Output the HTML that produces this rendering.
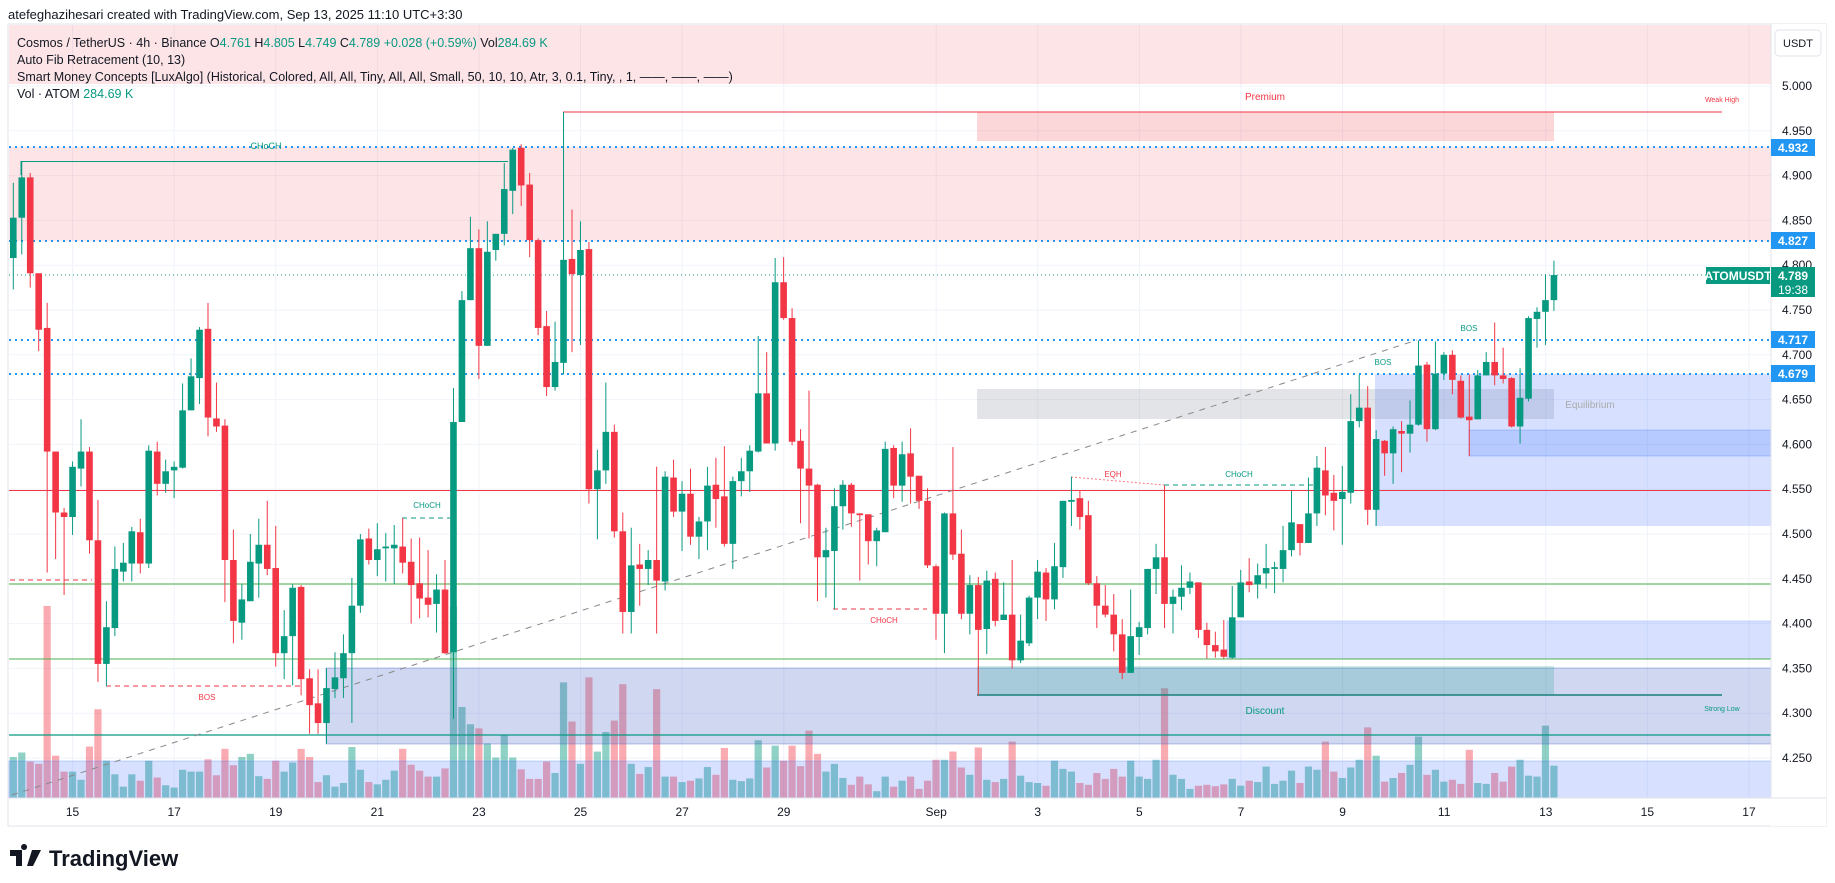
<!DOCTYPE html>
<html><head><meta charset="utf-8"><style>
html,body{margin:0;padding:0;background:#fff;}
svg{display:block;font-family:"Liberation Sans",sans-serif;}
</style></head><body>
<svg id="chart" width="1835" height="883" viewBox="0 0 1835 883" xmlns="http://www.w3.org/2000/svg">
<text x="8" y="19" font-size="13" fill="#131722">atefeghazihesari created with TradingView.com, Sep 13, 2025 11:10 UTC+3:30</text>
<rect x="8" y="24" width="1818" height="802" fill="#fff" stroke="#e0e3eb"/>
<g id="grid"></g>
<g id="vol"></g>
<g id="zones">
<rect x="9" y="25" width="1762" height="59" fill="rgba(242,54,69,0.13)"/>
<rect x="9" y="147" width="1762" height="94" fill="rgba(242,54,69,0.13)"/>
<rect x="977" y="112" width="577" height="29" fill="rgba(242,54,69,0.2)"/>
<rect x="977" y="389" width="577" height="30" fill="rgba(150,155,165,0.27)"/>
<rect x="1375" y="374" width="396" height="152" fill="rgba(41,98,255,0.19)"/>
<rect x="1469" y="430" width="302" height="26" fill="rgba(41,98,255,0.18)" stroke="rgba(41,98,255,0.25)"/>
<rect x="1227" y="621" width="544" height="38" fill="rgba(41,98,255,0.19)" stroke="rgba(41,98,255,0.2)"/>
<rect x="326" y="668" width="1445" height="76" fill="rgba(63,94,200,0.25)" stroke="rgba(63,94,200,0.35)"/>
<rect x="977" y="666" width="577" height="29" fill="rgba(8,153,129,0.2)"/>
<rect x="9" y="761" width="1762" height="37" fill="rgba(41,98,255,0.19)" stroke="rgba(41,98,255,0.25)"/>
</g>
<g id="lines">
<line x1="9" x2="1771" y1="147" y2="147" stroke="#2196f3" stroke-width="2" stroke-dasharray="2 4"/>
<line x1="9" x2="1771" y1="241" y2="241" stroke="#2196f3" stroke-width="2" stroke-dasharray="2 4"/>
<line x1="9" x2="1771" y1="340" y2="340" stroke="#2196f3" stroke-width="2" stroke-dasharray="2 4"/>
<line x1="9" x2="1771" y1="374" y2="374" stroke="#2196f3" stroke-width="2" stroke-dasharray="2 4"/>
<line x1="9" x2="1771" y1="275" y2="275" stroke="#089981" stroke-width="1" stroke-dasharray="1 3"/>
<line x1="9" x2="1771" y1="490.5" y2="490.5" stroke="#f23645" stroke-width="1"/>
<line x1="9" x2="1771" y1="584" y2="584" stroke="#81c784" stroke-width="1.5"/>
<line x1="9" x2="1771" y1="659" y2="659" stroke="#4caf50" stroke-width="1"/>
<line x1="9" x2="1771" y1="735" y2="735" stroke="#089981" stroke-width="1.2"/>
<line x1="12" y1="795" x2="1417" y2="340" stroke="#888" stroke-width="1" stroke-dasharray="6 6"/>
<polyline points="21,175 21,161.5 508,161.5" fill="none" stroke="#089981" stroke-width="1"/>
<line x1="563" y1="112" x2="1722" y2="112" stroke="#f23645" stroke-width="1"/>
<line x1="977" y1="695" x2="1722" y2="695" stroke="#1a7f7a" stroke-width="1.5"/>
<line x1="106" y1="686" x2="300" y2="686" stroke="#f23645" stroke-dasharray="5 4"/>
<line x1="10" y1="580" x2="92" y2="580" stroke="#f23645" stroke-dasharray="5 4"/>
<line x1="402" y1="518" x2="450" y2="518" stroke="#089981" stroke-dasharray="5 4"/>
<line x1="833" y1="609" x2="927" y2="609" stroke="#f23645" stroke-dasharray="5 4"/>
<line x1="1071" y1="477" x2="1164" y2="485" stroke="#f77c80" stroke-dasharray="2 2"/>
<line x1="1164" y1="485" x2="1313" y2="485" stroke="#089981" stroke-dasharray="5 4"/>
</g>
<g id="candles"></g>
<g font-size="8">
<text x="266" y="149" fill="#089981" font-size="9" text-anchor="middle">CHoCH</text>
<text x="207" y="700" fill="#f23645" text-anchor="middle">BOS</text>
<text x="427" y="508" fill="#089981" text-anchor="middle">CHoCH</text>
<text x="884" y="623" fill="#f23645" text-anchor="middle">CHoCH</text>
<text x="1113" y="477" fill="#f23645" text-anchor="middle">EQH</text>
<text x="1239" y="477" fill="#089981" text-anchor="middle">CHoCH</text>
<text x="1383" y="365" fill="#089981" text-anchor="middle">BOS</text>
<text x="1469" y="331" fill="#089981" text-anchor="middle">BOS</text>
<text x="1265" y="100" fill="#f23645" font-size="10" text-anchor="middle">Premium</text>
<text x="1722" y="102" fill="#f23645" font-size="7" text-anchor="middle">Weak High</text>
<text x="1590" y="408" fill="#aaa" font-size="10" text-anchor="middle">Equilibrium</text>
<text x="1265" y="714" fill="#089981" font-size="10" text-anchor="middle">Discount</text>
<text x="1722" y="711" fill="#089981" font-size="7" text-anchor="middle">Strong Low</text>
</g>
<g font-size="12.5" fill="#131722">
<text x="17" y="47">Cosmos / TetherUS · 4h · Binance  O<tspan fill="#089981">4.761</tspan>  H<tspan fill="#089981">4.805</tspan>  L<tspan fill="#089981">4.749</tspan>  C<tspan fill="#089981">4.789</tspan>  <tspan fill="#089981">+0.028 (+0.59%)</tspan>  Vol<tspan fill="#089981">284.69 K</tspan></text>
<text x="17" y="64">Auto Fib Retracement (10, 13)</text>
<text x="17" y="81">Smart Money Concepts [LuxAlgo] (Historical, Colored, All, All, Tiny, All, All, Small, 50, 10, 10, Atr, 3, 0.1, Tiny, , 1, ——, ——, ——)</text>
<text x="17" y="98">Vol · ATOM  <tspan fill="#089981">284.69 K</tspan></text>
</g>
<rect x="1771" y="24" width="55" height="802" fill="#fff"/>
<line x1="1771" y1="24" x2="1771" y2="798" stroke="#e0e3eb"/>
<line x1="8" y1="798" x2="1826" y2="798" stroke="#e0e3eb"/>
<g id="axes" font-size="12" fill="#131722"></g>
<rect x="1775" y="30" width="46" height="26" rx="4" fill="#fff" stroke="#e0e3eb"/>
<text x="1798" y="47" font-size="11" fill="#131722" text-anchor="middle">USDT</text>
<g font-size="12" font-weight="bold" fill="#fff" text-anchor="middle">
<rect x="1771" y="139" width="44" height="17" fill="#2196f3"/><text x="1793" y="152">4.932</text>
<rect x="1771" y="232" width="44" height="17" fill="#2196f3"/><text x="1793" y="245">4.827</text>
<rect x="1771" y="331" width="44" height="17" fill="#2196f3"/><text x="1793" y="344">4.717</text>
<rect x="1771" y="365" width="44" height="17" fill="#2196f3"/><text x="1793" y="378">4.679</text>
<rect x="1706" y="267" width="64" height="17" fill="#089981"/><text x="1738" y="280">ATOMUSDT</text>
<rect x="1771" y="267" width="44" height="30" fill="#089981"/><text x="1793" y="280">4.789</text><text x="1793" y="294" font-weight="normal">19:38</text>
</g>
<g>
<path d="M10 850 h12 v16 h-6 v-10 h-6z M24 850 a3 3 0 1 1 0.1 0z M32 850 h9 l-8 16 h-6z" fill="#131722"/>
<text x="49" y="866" font-size="22" font-weight="bold" fill="#131722">TradingView</text>
</g>
</svg>
<script>
const O=[4.808,4.853,4.898,4.791,4.730,4.592,4.524,4.519,4.573,4.592,4.493,4.355,4.395,4.458,4.467,4.502,4.467,4.592,4.556,4.571,4.574,4.638,4.674,4.729,4.629,4.621,4.471,4.401,4.425,4.467,4.488,4.462,4.367,4.386,4.441,4.339,4.311,4.289,4.327,4.339,4.367,4.420,4.495,4.471,4.484,4.484,4.486,4.469,4.445,4.429,4.422,4.438,4.368,4.625,4.761,4.819,4.710,4.817,4.835,4.883,4.931,4.890,4.828,4.732,4.664,4.691,4.807,4.789,4.818,4.550,4.571,4.614,4.503,4.413,4.466,4.461,4.471,4.447,4.563,4.525,4.545,4.497,4.514,4.555,4.542,4.489,4.559,4.570,4.592,4.657,4.601,4.781,4.741,4.604,4.573,4.555,4.474,4.481,4.531,4.555,4.523,4.522,4.492,4.502,4.596,4.554,4.590,4.565,4.537,4.464,4.411,4.523,4.478,4.411,4.443,4.394,4.450,4.404,4.410,4.359,4.378,4.429,4.457,4.427,4.463,4.536,4.540,4.521,4.445,4.420,4.410,4.388,4.345,4.385,4.395,4.461,4.474,4.422,4.430,4.440,4.446,4.393,4.376,4.371,4.362,4.407,4.447,4.444,4.456,4.461,4.461,4.482,4.511,4.490,4.523,4.571,4.546,4.539,4.546,4.626,4.641,4.527,4.604,4.590,4.615,4.612,4.622,4.689,4.617,4.679,4.700,4.671,4.631,4.628,4.677,4.692,4.677,4.674,4.620,4.651,4.740,4.748,4.761];
const H=[4.892,4.916,4.903,4.791,4.758,4.592,4.529,4.581,4.628,4.597,4.538,4.425,4.486,4.490,4.508,4.517,4.599,4.603,4.583,4.581,4.668,4.696,4.731,4.758,4.669,4.628,4.505,4.444,4.500,4.517,4.537,4.509,4.415,4.444,4.443,4.349,4.349,4.350,4.368,4.388,4.451,4.500,4.506,4.512,4.501,4.510,4.518,4.495,4.496,4.482,4.455,4.471,4.663,4.771,4.854,4.840,4.849,4.835,4.914,4.931,4.935,4.903,4.830,4.749,4.737,4.971,4.862,4.849,4.826,4.594,4.669,4.622,4.524,4.507,4.489,4.482,4.575,4.570,4.583,4.559,4.573,4.519,4.575,4.585,4.598,4.564,4.585,4.599,4.721,4.703,4.808,4.809,4.752,4.617,4.660,4.556,4.507,4.551,4.560,4.557,4.523,4.522,4.507,4.603,4.599,4.603,4.618,4.565,4.551,4.466,4.524,4.597,4.505,4.454,4.452,4.459,4.457,4.446,4.471,4.410,4.431,4.471,4.462,4.490,4.537,4.564,4.548,4.537,4.453,4.443,4.433,4.405,4.438,4.402,4.461,4.489,4.554,4.438,4.465,4.457,4.446,4.401,4.391,4.404,4.442,4.460,4.473,4.467,4.489,4.469,4.509,4.548,4.511,4.563,4.587,4.597,4.566,4.576,4.656,4.678,4.665,4.616,4.605,4.620,4.626,4.649,4.716,4.692,4.715,4.703,4.705,4.677,4.678,4.683,4.703,4.736,4.708,4.675,4.685,4.743,4.753,4.790,4.805];
const L=[4.773,4.812,4.775,4.704,4.457,4.472,4.432,4.499,4.553,4.478,4.335,4.330,4.386,4.447,4.447,4.456,4.462,4.543,4.546,4.540,4.573,4.638,4.645,4.609,4.614,4.424,4.378,4.382,4.425,4.429,4.454,4.352,4.338,4.331,4.320,4.277,4.277,4.266,4.317,4.317,4.289,4.412,4.466,4.453,4.447,4.444,4.456,4.400,4.406,4.407,4.390,4.366,4.294,4.625,4.761,4.673,4.710,4.805,4.822,4.857,4.866,4.809,4.722,4.654,4.660,4.678,4.703,4.711,4.534,4.494,4.556,4.496,4.389,4.389,4.420,4.443,4.389,4.437,4.519,4.481,4.488,4.472,4.482,4.507,4.486,4.461,4.542,4.547,4.591,4.601,4.593,4.739,4.599,4.512,4.495,4.425,4.429,4.416,4.505,4.508,4.448,4.466,4.464,4.502,4.540,4.536,4.534,4.528,4.462,4.382,4.367,4.471,4.405,4.388,4.320,4.366,4.397,4.404,4.350,4.356,4.375,4.405,4.403,4.416,4.451,4.509,4.505,4.443,4.395,4.407,4.369,4.338,4.345,4.365,4.388,4.433,4.395,4.389,4.415,4.433,4.384,4.361,4.362,4.361,4.361,4.407,4.435,4.428,4.439,4.434,4.446,4.475,4.476,4.490,4.509,4.521,4.504,4.488,4.534,4.619,4.510,4.509,4.565,4.556,4.569,4.591,4.621,4.603,4.616,4.672,4.656,4.629,4.587,4.628,4.677,4.666,4.668,4.619,4.601,4.648,4.708,4.711,4.749];
const C=[4.853,4.898,4.791,4.728,4.592,4.524,4.519,4.575,4.592,4.493,4.355,4.396,4.461,4.468,4.503,4.467,4.593,4.556,4.570,4.575,4.638,4.676,4.728,4.630,4.620,4.471,4.403,4.427,4.469,4.488,4.461,4.367,4.386,4.440,4.338,4.309,4.289,4.328,4.340,4.367,4.420,4.494,4.471,4.483,4.486,4.488,4.468,4.443,4.428,4.421,4.438,4.367,4.625,4.761,4.819,4.710,4.815,4.835,4.885,4.929,4.889,4.828,4.730,4.664,4.692,4.806,4.790,4.817,4.550,4.571,4.614,4.503,4.413,4.465,4.461,4.471,4.448,4.564,4.525,4.545,4.497,4.514,4.554,4.539,4.489,4.559,4.570,4.593,4.657,4.601,4.781,4.741,4.603,4.573,4.554,4.474,4.482,4.531,4.555,4.523,4.521,4.492,4.504,4.595,4.554,4.589,4.564,4.537,4.465,4.411,4.523,4.477,4.411,4.443,4.393,4.448,4.403,4.410,4.359,4.381,4.429,4.458,4.427,4.464,4.537,4.538,4.519,4.445,4.420,4.410,4.388,4.345,4.386,4.396,4.461,4.474,4.422,4.430,4.440,4.447,4.393,4.376,4.369,4.363,4.407,4.446,4.443,4.454,4.462,4.463,4.482,4.513,4.490,4.523,4.574,4.543,4.537,4.547,4.626,4.641,4.527,4.606,4.590,4.617,4.612,4.622,4.688,4.617,4.679,4.700,4.672,4.630,4.627,4.677,4.692,4.677,4.673,4.620,4.652,4.741,4.748,4.761,4.789];
const VOL=[360,400,320,300,1688,372,232,232,160,452,780,328,208,100,208,152,328,180,112,92,248,232,232,340,200,432,288,360,388,192,168,328,232,312,432,360,140,200,100,132,448,248,140,120,160,240,432,292,240,188,188,260,1680,800,648,612,480,356,552,356,252,168,168,320,220,1016,672,300,1060,408,580,680,1000,300,212,272,956,188,188,140,152,172,272,204,440,160,148,172,508,268,460,328,460,280,592,388,232,300,176,116,188,120,60,188,100,152,188,80,152,336,336,408,268,204,444,160,140,168,496,196,140,132,108,328,256,232,132,116,220,168,256,188,328,188,168,336,964,204,168,80,108,116,104,120,168,108,152,140,276,124,152,240,132,276,248,496,232,176,268,336,620,372,144,176,220,292,540,204,248,144,160,124,424,132,124,220,144,276,336,196,188,636,284];
const PRICE_TICKS=[5.00,4.95,4.90,4.85,4.80,4.75,4.70,4.65,4.60,4.55,4.50,4.45,4.40,4.35,4.30,4.25];
const TIME_LABELS=["15","17","19","21","23","25","27","29","Sep","3","5","7","9","11","13","15","17"];
const TIME_DAYS=[0,2,4,6,8,10,12,14,17,19,21,23,25,27,29,31,33];

const NS="http://www.w3.org/2000/svg";
const Y=p=>86+(5-p)*896;
const X=i=>13.3+i*8.465;
const XD=d=>X(7)+d*50.8;
const VH=v=>v*0.1138;
const VBASE=798;
function mk(tag,attrs,parent){const e=document.createElementNS(NS,tag);for(const k in attrs)e.setAttribute(k,attrs[k]);parent.appendChild(e);return e;}
const grid=document.getElementById('grid'),axes=document.getElementById('axes');
PRICE_TICKS.forEach(p=>{
  const gl=mk('line',{x1:9,x2:1771,y1:Y(p),y2:Y(p),stroke:'#f0f3fa'},grid);
  
  
  const t=mk('text',{x:1797,y:Y(p)+4,'text-anchor':'middle'},axes);
  t.textContent=p.toFixed(3);
  
  
});
TIME_LABELS.forEach((lab,k)=>{
  const x=XD(TIME_DAYS[k]);
  const gl=mk('line',{x1:x,x2:x,y1:25,y2:798,stroke:'#f0f3fa'},grid);
  
  
  const t=mk('text',{x:x,y:816,'text-anchor':'middle'},axes);
  t.textContent=lab;
  
  
});
const vg=document.getElementById('vol'),cg=document.getElementById('candles');
for(let i=0;i<C.length;i++){
  const up=C[i]>=O[i];
  const h=VH(VOL[i]);
  const vb=mk('rect',{x:X(i)-3.6,y:VBASE-h,width:7.2,height:h,fill:up?'rgba(8,153,129,0.45)':'rgba(242,54,69,0.42)'},vg);
  
  
  const col=up?'#089981':'#f23645';
  const w=mk('line',{x1:X(i),x2:X(i),y1:Y(H[i]),y2:Y(L[i]),stroke:col,'stroke-width':1},cg);
  
  
  const top=Y(Math.max(O[i],C[i])),bh=Math.max(1,Math.abs(Y(O[i])-Y(C[i])));
  const b=mk('rect',{x:X(i)-3.3,y:top,width:6.6,height:bh,fill:col},cg);
  
  
}
</script>
</body></html>
